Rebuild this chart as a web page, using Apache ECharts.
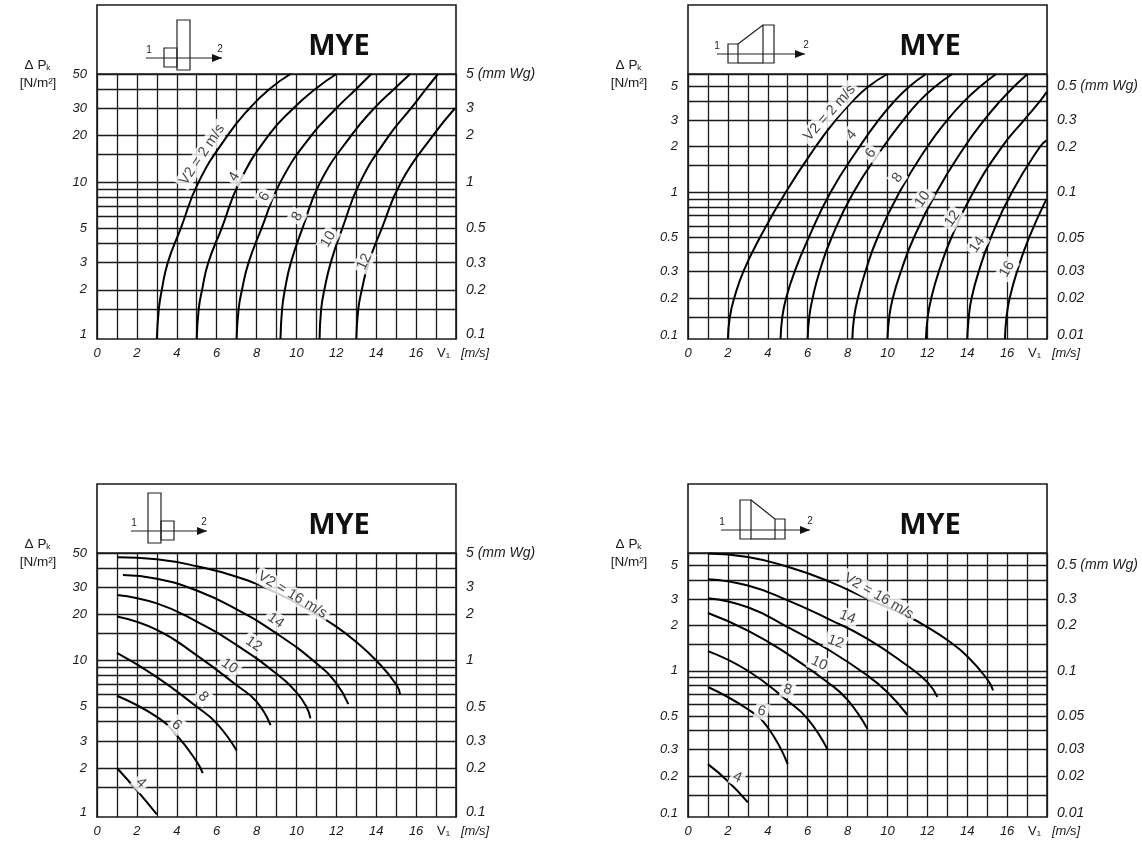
<!DOCTYPE html>
<html><head><meta charset="utf-8">
<style>html,body{margin:0;padding:0;background:#fff}#c{width:1142px;height:844px}</style>
<script src="https://cdn.jsdelivr.net/npm/echarts@6/dist/echarts.min.js"></script>
</head><body><div id="c"></div>
<script>
// ---- axis levels
const gridLevelsA = [1.5,2,3,4,5,6,7,8,9,10,15,20,30,40,50];
const gridLevelsB = [0.15,0.2,0.3,0.4,0.5,0.6,0.7,0.8,0.9,1,1.5,2,3,4,5,6];
const leftValuesA  = [1.03,2,3,5,10,20,30,50];
const leftTextsA   = ['1','2','3','5','10','20','30','50'];
const rightTextsA  = ['0.1','0.2','0.3','0.5','1','2','3','5 (mm Wg)'];
const leftValuesB  = [0.113,0.2,0.3,0.5,1,2,3,5];
const leftTextsB   = ['0.1','0.2','0.3','0.5','1','2','3','5'];
const rightTextsB  = ['0.01','0.02','0.03','0.05','0.1','0.2','0.3','0.5 (mm Wg)'];
const xTickLabels  = [0,2,4,6,8,10,12,14,16];

// ---- panel 1 curves (V1, dPk)
const p1v2  = [[3,0.96],[3.1,1.5],[3.25,2],[3.55,3],[4.2,5],[5.1,10],[6.55,20],[7.65,30],[8.65,40],[9.7,50]];
const p1v4  = [[5,0.96],[5.1,1.5],[5.27,2],[5.58,3],[6.25,5],[7.15,10],[8.6,20],[9.85,30],[10.95,40],[12,50]];
const p1v6  = [[7,0.96],[7.1,1.5],[7.27,2],[7.6,3],[8.25,5],[9.2,10],[10.75,20],[12,30],[13,40],[13.75,50]];
const p1v8  = [[9.2,0.96],[9.28,1.5],[9.42,2],[9.72,3],[10.3,5],[11.2,10],[12.75,20],[13.9,30],[14.9,40],[15.7,50]];
const p1v10 = [[11.16,0.96],[11.24,1.5],[11.4,2],[11.72,3],[12.3,5],[13.2,10],[14.65,20],[15.75,30],[16.5,40],[17.1,50]];
const p1v12 = [[13,0.96],[13.1,1.5],[13.28,2],[13.62,3],[14.28,5],[15.25,10],[16.85,20],[17.95,30]];
// ---- panel 2 curves
const p2v2  = [[2,0.107],[2.1,0.15],[2.32,0.2],[2.78,0.3],[3.6,0.5],[4.9,1],[6.4,2],[7.4,3],[8.25,4],[9.05,5],[10,6.05]];
const p2v4  = [[4.64,0.107],[4.73,0.15],[4.92,0.2],[5.35,0.3],[6.05,0.5],[7.15,1],[8.6,2],[9.55,3],[10.35,4],[11.1,5],[11.93,6.05]];
const p2v6  = [[6,0.107],[6.08,0.15],[6.25,0.2],[6.6,0.3],[7.2,0.5],[8.3,1],[9.8,2],[10.8,3],[11.6,4],[12.4,5],[13.25,6.05]];
const p2v8  = [[8.24,0.107],[8.33,0.15],[8.52,0.2],[8.9,0.3],[9.5,0.5],[10.6,1],[12,2],[13,3],[13.85,4],[14.65,5],[15.45,6.05]];
const p2v10 = [[10,0.107],[10.09,0.15],[10.27,0.2],[10.68,0.3],[11.32,0.5],[12.46,1],[13.87,2],[14.85,3],[15.65,4],[16.35,5],[17.03,6.05]];
const p2v12 = [[11.93,0.107],[12.02,0.15],[12.2,0.2],[12.58,0.3],[13.2,0.5],[14.3,1],[15.75,2],[16.85,3],[17.65,4],[17.98,4.6]];
const p2v14 = [[14,0.107],[14.08,0.15],[14.22,0.2],[14.58,0.3],[15.18,0.5],[16.24,1],[17.65,2],[17.98,2.2]];
const p2v16 = [[15.89,0.107],[15.97,0.15],[16.13,0.2],[16.5,0.3],[17.1,0.5],[17.97,0.9]];
// ---- panel 3 curves
const p3v16 = [[1.04,47],[3,45.5],[5,41],[7,35],[9,27.5],[11,20],[12,16.6],[13,13.2],[14,10],[15,7],[15.2,6]];
const p3v14 = [[1.3,36],[3,34],[5,28.5],[7,21.5],[9,15],[11,9.6],[12,7.1],[12.6,5.2]];
const p3v12 = [[1,26.7],[3,23.5],[5,17.9],[7,12.6],[9,8.2],[10,6.2],[10.5,5],[10.7,4.2]];
const p3v10 = [[1,19.3],[3,15.8],[5,10.8],[7,6.9],[8,5.4],[8.7,3.8]];
const p3v8  = [[1,11.2],[3,7.8],[5,5],[6,3.9],[7,2.6]];
const p3v6  = [[1,5.9],[3,4.3],[4,3.26],[5,2.2],[5.3,1.85]];
const p3v4  = [[1,2],[2,1.43],[3,1]];
// ---- panel 4 curves
const p4v16 = [[1,6],[3,5.7],[5,4.9],[7,3.95],[9,3],[11,2.3],[12,1.95],[13,1.6],[14,1.25],[15,0.88],[15.3,0.74]];
const p4v14 = [[1,4.05],[3,3.68],[5,2.93],[7,2.22],[9,1.63],[11,1.08],[12,0.84],[12.5,0.67]];
const p4v12 = [[1,3.03],[3,2.64],[5,1.95],[7,1.39],[9,0.93],[10,0.72],[11,0.51]];
const p4v10 = [[1,2.42],[3,1.85],[5,1.29],[7,0.84],[8,0.64],[9,0.41]];
const p4v8  = [[1,1.35],[3,1],[5,0.63],[6,0.48],[7,0.3]];
const p4v6  = [[1,0.78],[3,0.555],[4,0.42],[5,0.24]];
const p4v4  = [[1,0.24],[2,0.185],[3,0.134]];

// ---- curve annotations: text, V1, dPk, angle
const p1notes = [['V2 = 2 m/s',5.27,15,56],['4',6.88,10.8,60],['6',8.4,8.05,60],['8',10.04,5.97,60],['10',11.6,4.25,60],['12',13.4,3.04,65]];
const p2notes = [['V2 = 2 m/s',7.1,3.35,48],['4',8.2,2.4,50],['6',9.16,1.81,55],['8',10.5,1.25,55],['10',11.76,0.9,55],['12',13.25,0.668,55],['14',14.5,0.45,55],['16',16,0.31,60]];
const p3notes = [['V2 = 16 m/s',9.8,26.7,-31],['14',8.96,18.2,-35],['12',7.86,12.8,-35],['10',6.64,9.2,-35],['8',5.32,5.8,-45],['6',4,3.8,-40],['4',2.2,1.6,-45]];
const p4notes = [['V2 = 16 m/s',9.56,3.13,-30],['14',8,2.27,-22],['12',7.4,1.56,-20],['10',6.58,1.12,-25],['8',5,0.75,-15],['6',3.7,0.54,-15],['4',2.48,0.196,-25]];

const panels = [
 {left:97, top:74, bottom:339, min:0.96, max:50, levels:gridLevelsA, lv:leftValuesA, lt:leftTextsA, rt:rightTextsA,
  curves:[['2',p1v2],['4',p1v4],['6',p1v6],['8',p1v8],['10',p1v10],['12',p1v12]], notes:p1notes},
 {left:688, top:74, bottom:339, min:0.107, max:6.05, levels:gridLevelsB, lv:leftValuesB, lt:leftTextsB, rt:rightTextsB,
  curves:[['2',p2v2],['4',p2v4],['6',p2v6],['8',p2v8],['10',p2v10],['12',p2v12],['14',p2v14],['16',p2v16]], notes:p2notes},
 {left:97, top:553, bottom:817, min:0.96, max:50, levels:gridLevelsA, lv:leftValuesA, lt:leftTextsA, rt:rightTextsA,
  curves:[['16',p3v16],['14',p3v14],['12',p3v12],['10',p3v10],['8',p3v8],['6',p3v6],['4',p3v4]], notes:p3notes},
 {left:688, top:553, bottom:817, min:0.107, max:6.05, levels:gridLevelsB, lv:leftValuesB, lt:leftTextsB, rt:rightTextsB,
  curves:[['16',p4v16],['14',p4v14],['12',p4v12],['10',p4v10],['8',p4v8],['6',p4v6],['4',p4v4]], notes:p4notes}
];
const W = 359, INK = '#1a1a1a', FONT = '"Liberation Sans", Arial, sans-serif';

const option = {animation:false, backgroundColor:'#fff', grid:[], xAxis:[], yAxis:[], series:[], graphic:[]};
panels.forEach((p,i)=>{
  option.grid.push({left:p.left, top:p.top, width:W, height:p.bottom-p.top, containLabel:false});
  option.xAxis.push({gridIndex:i, type:'value', min:0, max:18, interval:1,
    axisLine:{show:true, lineStyle:{color:INK,width:1.6}}, axisTick:{show:false},
    splitLine:{show:true, lineStyle:{color:INK,width:1.3}},
    axisLabel:{customValues:xTickLabels, margin:8, color:INK, fontStyle:'italic', fontFamily:FONT, fontSize:13}});
  const lab = (texts,align,margin,size)=>({customValues:p.lv, margin, align, color:INK, fontStyle:'italic', fontFamily:FONT, fontSize:size,
     formatter:v=>{let b=0;p.lv.forEach((x,k)=>{if(Math.abs(Math.log(x/v))<Math.abs(Math.log(p.lv[b]/v)))b=k;});return texts[b];}});
  option.yAxis.push({gridIndex:i, type:'log', logBase:10, min:p.min, max:p.max, position:'left',
    axisLine:{show:true, lineStyle:{color:INK,width:1.6}},
    axisTick:{show:false, customValues:p.levels},
    splitLine:{show:true, lineStyle:{color:INK,width:1.3}},
    minorSplitLine:{show:false},
    axisLabel:lab(p.lt,'right',10,13)});
  option.yAxis.push({gridIndex:i, type:'log', logBase:10, min:p.min, max:p.max, position:'right',
    axisLine:{show:true, lineStyle:{color:INK,width:1.6}},
    axisTick:{show:false}, splitLine:{show:false},
    axisLabel:lab(p.rt,'left',10,14)});
  p.curves.forEach(c=>option.series.push({type:'line', name:'V2 = '+c[0]+' m/s', xAxisIndex:i, yAxisIndex:i*2, data:c[1], smooth:0.5,
    showSymbol:false, symbol:'none', z:4, lineStyle:{color:'#000',width:2}}));
  option.series.push({type:'scatter', name:'notes'+i, xAxisIndex:i, yAxisIndex:i*2, symbolSize:1, z:6, itemStyle:{color:'rgba(0,0,0,0)'},
    data:p.notes.map(n=>({name:n[0], value:[n[1],n[2]],
      label:{show:true, position:'inside', formatter:n[0], rotate:n[3], color:'#111', fontFamily:FONT, fontSize:14.5, backgroundColor:'#fff', padding:[1,3]}}))});
  // header box, titles
  option.graphic.push({type:'rect', shape:{x:p.left,y:p.top-69,width:W,height:69}, style:{fill:'none',stroke:INK,lineWidth:1.6}});
  option.graphic.push({type:'text', x:p.left+242, y:p.top-27, style:{text:'MYE', fill:'#111', font:'bold 29px "Open Sans", sans-serif', textAlign:'center', textVerticalAlign:'middle'}});
  option.graphic.push({type:'text', x:p.left-59, y:p.top-9, style:{text:'Δ Pₖ', fill:INK, font:'13.5px '+FONT, textAlign:'center', textVerticalAlign:'middle'}});
  option.graphic.push({type:'text', x:p.left-59, y:p.top+9, style:{text:'[N/m²]', fill:INK, font:'13.5px '+FONT, textAlign:'center', textVerticalAlign:'middle'}});
  option.graphic.push({type:'text', x:p.left+340, y:p.bottom+14, style:{text:'V₁', fill:INK, font:'13px '+FONT, textAlign:'left', textVerticalAlign:'middle'}});
  option.graphic.push({type:'text', x:p.left+364, y:p.bottom+14, style:{text:'[m/s]', fill:INK, font:'italic 13px '+FONT, textAlign:'left', textVerticalAlign:'middle'}});
});
// flow diagrams
function box(x0,y0,x1,y1){return {type:'rect',shape:{x:x0,y:y0,width:x1-x0,height:y1-y0},style:{fill:'none',stroke:'#222',lineWidth:1.2}};}
function line(pts){return {type:'polyline',shape:{points:pts},style:{fill:'none',stroke:'#222',lineWidth:1.2}};}
function arrow(x,y){return {type:'polygon',shape:{points:[[x,y],[x-10,y-4],[x-10,y+4]]},style:{fill:'#111'}};}
function num(t,x,y){return {type:'text',x,y,style:{text:t,fill:'#222',font:'10px '+FONT,textAlign:'center',textVerticalAlign:'middle'}};}
option.graphic.push(box(164,48,177,67),box(177,20,190,70),line([[146,58],[222,58]]),arrow(222,58),num('1',149,50),num('2',220,49));
option.graphic.push(box(728,44,738,63),box(763,25,774,63),line([[738,44],[763,25]]),line([[738,63],[763,63]]),line([[717,54],[805,54]]),arrow(805,54),num('1',717,46),num('2',806,45));
option.graphic.push(box(148,493,161,543),box(161,521,174,540),line([[131,531],[207,531]]),arrow(207,531),num('1',134,523),num('2',204,522));
option.graphic.push(box(740,500,751,539),box(775,519,785,539),line([[751,500],[775,519]]),line([[751,539],[775,539]]),line([[721,530],[810,530]]),arrow(810,530),num('1',722,522),num('2',810,521));

echarts.init(document.getElementById('c'),null,{renderer:'canvas'}).setOption(option);
</script></body></html>
